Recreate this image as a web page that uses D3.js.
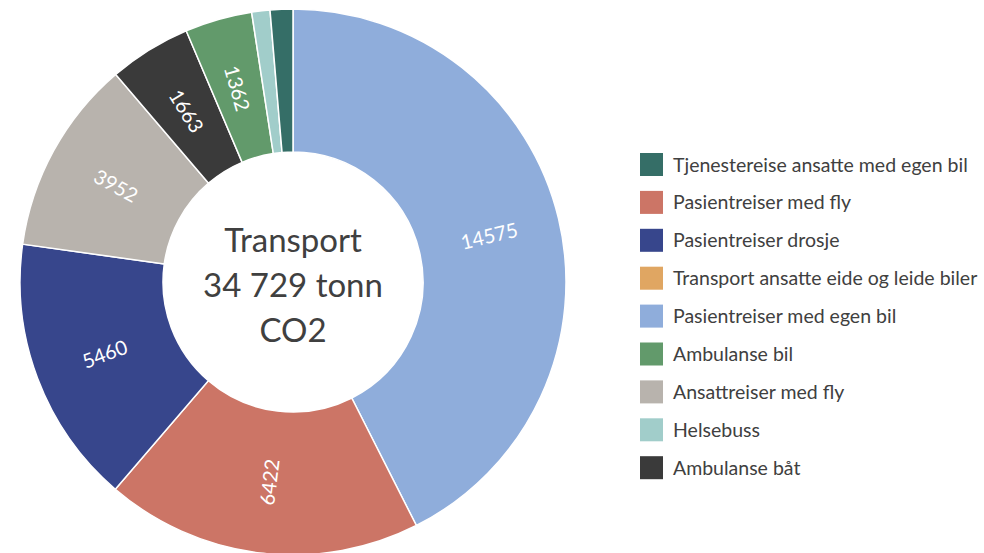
<!DOCTYPE html>
<html>
<head>
<meta charset="utf-8">
<script src="https://cdn.jsdelivr.net/npm/d3@7"></script>
<style>
  body { margin: 0; background: #fff; }
  svg { font-family: Lato, "Open Sans", sans-serif; }
</style>
</head>
<body>
<div class="chart"></div>
<script>
// slice order as drawn, clockwise from 12 o'clock
let categories = ["Pasientreiser med egen bil", "Pasientreiser med fly", "Pasientreiser drosje",
  "Ansattreiser med fly", "Ambulanse båt", "Ambulanse bil", "Helsebuss",
  "Tjenestereise ansatte med egen bil", "Transport ansatte eide og leide biler"]
let values = [14575, 6422, 5460, 3952, 1663, 1362, 370, 460, 0]
let colorList = ["#8FADDB", "#CC7566", "#37468C", "#B8B3AD", "#3A3A3A", "#629A6B", "#A1CDCA", "#356E67", "#E0A662"]
let legendOrder = ["Tjenestereise ansatte med egen bil", "Pasientreiser med fly", "Pasientreiser drosje",
  "Transport ansatte eide og leide biler", "Pasientreiser med egen bil", "Ambulanse bil",
  "Ansattreiser med fly", "Helsebuss", "Ambulanse båt"]
let centerLines = ["Transport", "34 729 tonn", "CO2"]

let w = 984
let h = 553
let cx = 293
let cy = 282
let rOuter = 273
let rInner = 130

let data = categories.map((c, i) => ({name: c, value: values[i]}))

let colors = d3.scaleOrdinal()
  .domain(categories)
  .range(colorList)

let svg = d3.select(".chart")
  .append("svg")
  .attr("width", w)
  .attr("height", h)

let pie = d3.pie()
  .sort(null)
  .value((d) => d.value)

let arc = d3.arc()
  .innerRadius(rInner)
  .outerRadius(rOuter)

let arcs = pie(data).filter((d) => d.value > 0)

let g = svg.append("g")
  .attr("transform", "translate(" + cx + "," + cy + ")")

g.selectAll(".slice")
  .data(arcs)
  .enter()
  .append("path")
  .attr("class", "slice")
  .attr("d", arc)
  .style("fill", (d) => colors(d.data.name))
  .style("stroke", "#fff")
  .style("stroke-width", 1.5)

// labels sit mid-ring, rotated along the radius; only the bigger slices get one
let labelR = (rInner + rOuter) / 2
g.selectAll(".label")
  .data(arcs.filter((d) => d.value > 1000))
  .enter()
  .append("text")
  .attr("class", "label")
  .attr("transform", (d) => {
    let mid = (d.startAngle + d.endAngle) / 2
    let deg = mid * 180 / Math.PI
    let rot = deg - 90
    if (deg > 180) rot = rot - 180
    let x = labelR * Math.sin(mid)
    let y = -labelR * Math.cos(mid)
    return "translate(" + x + "," + y + ") rotate(" + rot + ")"
  })
  .attr("text-anchor", "middle")
  .attr("dominant-baseline", "central")
  .style("fill", "#fff")
  .style("font-size", "20px")
  .text((d) => d.data.value)

// centre title
g.selectAll(".center")
  .data(centerLines)
  .enter()
  .append("text")
  .attr("class", "center")
  .attr("x", 0)
  .attr("y", (d, i) => -30 + i * 45)
  .attr("text-anchor", "middle")
  .style("fill", "#404040")
  .style("font-size", "33px")
  .text((d) => d)

// legend
let legend = svg.append("g")
  .attr("transform", "translate(640,153)")

legend.selectAll("rect")
  .data(legendOrder)
  .enter()
  .append("rect")
  .attr("x", 0)
  .attr("y", (d, i) => i * 37.9)
  .attr("width", 23)
  .attr("height", 23)
  .style("fill", (d) => colors(d))

legend.selectAll("text")
  .data(legendOrder)
  .enter()
  .append("text")
  .attr("x", 33)
  .attr("y", (d, i) => i * 37.9 + 18.5)
  .style("fill", "#404040")
  .style("font-size", "19.5px")
  .text((d) => d)
</script>
</body>
</html>
